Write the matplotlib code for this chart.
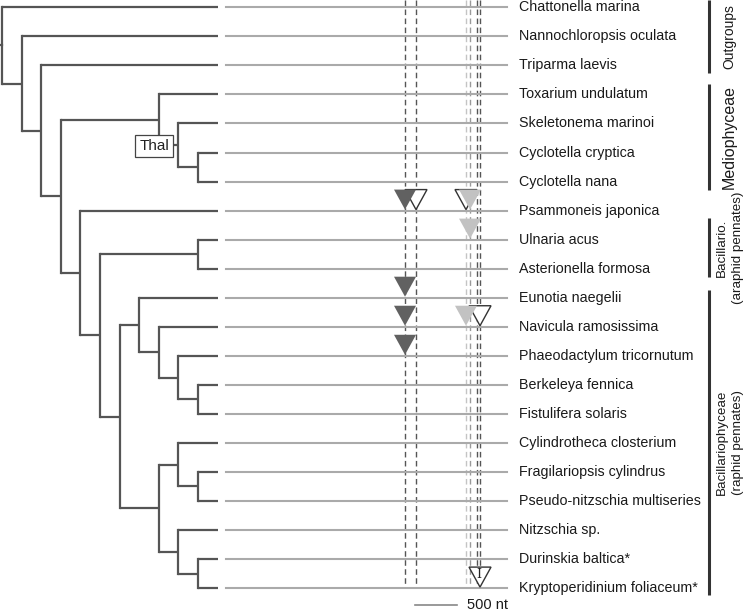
# diatom tree with intron positions

import matplotlib.pyplot as plt
from matplotlib.patches import Polygon

species = [
    "Chattonella marina", "Nannochloropsis oculata", "Triparma laevis",
    "Toxarium undulatum", "Skeletonema marinoi", "Cyclotella cryptica",
    "Cyclotella nana", "Psammoneis japonica", "Ulnaria acus",
    "Asterionella formosa", "Eunotia naegelii", "Navicula ramosissima",
    "Phaeodactylum tricornutum", "Berkeleya fennica", "Fistulifera solaris",
    "Cylindrotheca closterium", "Fragilariopsis cylindrus",
    "Pseudo-nitzschia multiseries", "Nitzschia sp.", "Durinskia baltica*",
    "Kryptoperidinium foliaceum*",
]

# tree: (depth, [children]); leaves are species index
tree = (0, [0, (1, [1, (2, [2, (3, [
    (8, [3, (9, [4, (10, [5, 6])])]),
    (4, [7, (5, [(10, [8, 9]),
                 (6, [(7, [10, (8, [11, (9, [12, (10, [13, 14])])])]),
                      (8, [(9, [15, (10, [16, 17])]),
                           (9, [18, (10, [19, 20])])])])])]),
])])])])
tip_depth = 11

# alignment (nt)
aln_len = 3345
site_pos = [2131, 2262, 2857, 2905, 2988, 3024]
site_col = ["#555555", "#555555", "#c4c4c4", "#9a9a9a", "#555555", "#555555"]
# triangles: (species index, nt position, style)
marks = [
    (7, 2131, "dark"), (7, 2262, "open"), (7, 2857, "open"), (7, 2905, "light"),
    (8, 2905, "light"),
    (10, 2131, "dark"),
    (11, 2131, "dark"), (11, 2857, "light"), (11, 3024, "open"),
    (12, 2131, "dark"),
    (20, 3024, "intron"),
]

# label, bracket start / end (in rows), font size
groups = [
    ("Outgroups", -0.25, 2.26, 10),
    ("Mediophyceae", 2.64, 6.29, 11.5),
    ("Bacillario.\n(araphid pennates)", 7.26, 9.29, 9.6),
    ("Bacillariophyceae\n(raphid pennates)", 9.73, 20.24, 9.6),
]

# pixel mapping
def xd(d):
    return 2 + 19.6 * d

def yr(i):
    return 7.3 + 29.04 * i

def xn(nt):
    return 226 + nt * 42 / 500

fig = plt.figure(figsize=(7.5, 6.13), dpi=100)
ax = fig.add_axes([0, 0, 1, 1])
ax.set_xlim(0, 750)
ax.set_ylim(613, 0)
ax.axis("off")

tree_col = "#555555"
tree_lw = 1.6


def draw(node):
    if isinstance(node, int):
        return yr(node), tip_depth
    d, kids = node
    ys = []
    for k in kids:
        yk, dk = draw(k)
        ax.plot([xd(d), xd(dk)], [yk, yk], color=tree_col, lw=tree_lw,
                solid_capstyle="butt", zorder=3)
        ys.append(yk)
    ax.plot([xd(d), xd(d)], [ys[0], ys[-1]], color=tree_col, lw=tree_lw,
            solid_capstyle="projecting", zorder=3)
    return (ys[0] + ys[-1]) / 2, d


ry, rd = draw(tree)
ax.plot([0, xd(rd)], [ry, ry], color=tree_col, lw=tree_lw, zorder=3)

# Thal label box on the thalassiosirales stem
ax.text(154, 146, "Thal", ha="center", va="center", fontsize=11,
        family="Liberation Sans", color="#222222", zorder=5,
        bbox=dict(boxstyle="square,pad=0.25", fc="white", ec="#444444", lw=0.9))

# alignment lines and names
for i, name in enumerate(species):
    ax.plot([xn(0), xn(aln_len)], [yr(i), yr(i)], color="#aaaaaa", lw=1.5, zorder=2)
    ax.text(519, yr(i), name, ha="left", va="center", fontsize=10.3,
            family="Liberation Sans", color="#1a1a1a")

for p, c in zip(site_pos, site_col):
    ax.plot([xn(p), xn(p)], [0, yr(20)], color=c, lw=1.0,
            ls=(0, (4, 2.5)), zorder=1)

# triangles
w, h = 11, 20
for i, p, style in marks:
    x0 = xn(p)
    y0 = yr(i) - 1
    pts = [(x0 - w, y0 - h), (x0 + w, y0 - h), (x0, y0)]
    if style == "dark":
        tri = Polygon(pts, closed=True, fc="#616161", ec="none", zorder=6)
    elif style == "light":
        tri = Polygon(pts, closed=True, fc="#c2c2c2", ec="none", zorder=6)
    else:
        tri = Polygon(pts, closed=True, fc="white", ec="#333333", lw=1.0, zorder=5)
    ax.add_patch(tri)
    if style == "intron":
        ax.text(x0 - 1, y0 - 13, "I", ha="center", va="center", fontsize=9,
                family="DejaVu Serif", color="#222222", zorder=7)

# group brackets
for label, a, b, fs in groups:
    top = max(yr(a), 0)
    bot = yr(b)
    ax.plot([709, 709], [top, bot], color="#333333", lw=2.2, solid_capstyle="butt")
    ax.text(729.5, (top + bot) / 2, label, rotation=90, ha="center", va="center",
            multialignment="center", fontsize=fs, family="Liberation Sans",
            color="#1a1a1a", linespacing=1.45)

# scale bar
ax.plot([415, 415 + 42], [605, 605], color="#888888", lw=1.2)
ax.text(467, 605, "500 nt", ha="left", va="center", fontsize=10.5,
        family="Liberation Sans", color="#1a1a1a")

fig.savefig("out.png", dpi=100)
